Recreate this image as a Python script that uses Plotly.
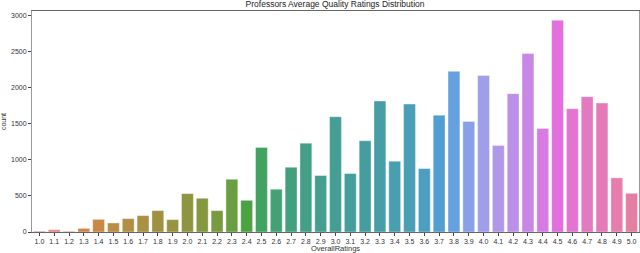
import math, colorsys
import plotly.graph_objects as go

ratings = ["1.0","1.1","1.2","1.3","1.4","1.5","1.6","1.7","1.8","1.9",
           "2.0","2.1","2.2","2.3","2.4","2.5","2.6","2.7","2.8","2.9",
           "3.0","3.1","3.2","3.3","3.4","3.5","3.6","3.7","3.8","3.9",
           "4.0","4.1","4.2","4.3","4.4","4.5","4.6","4.7","4.8","4.9","5.0"]
counts = [12, 32, 10, 50, 175, 125, 185, 227, 296, 171,
          532, 467, 296, 731, 439, 1171, 592, 897, 1231, 782,
          1597, 810, 1264, 1814, 981, 1772, 879, 1619, 2226, 1532,
          2167, 1199, 1917, 2472, 1435, 2935, 1708, 1875, 1786, 750, 536]

# seaborn-like husl palette (h=.01, s=.9, l=.65) desaturated by 0.75
M = [[3.2406, -1.5372, -0.4986], [-0.9689, 1.8758, 0.0415], [0.0557, -0.2040, 1.0570]]
refU, refV = 0.19784, 0.46834

def max_chroma(L, H):
    hrad = math.radians(H); sinH = math.sin(hrad); cosH = math.cos(hrad)
    sub1 = (L + 16) ** 3 / 1560896.0
    sub2 = sub1 if sub1 > 0.008856 else L / 903.3
    res = float("inf")
    for m1, m2, m3 in M:
        top = (0.99915 * m1 + 1.05122 * m2 + 1.14460 * m3) * sub2
        rb = 0.86330 * m3 - 0.17266 * m2
        lb = 0.12949 * m3 - 0.38848 * m1
        bottom = (rb * sinH + lb * cosH) * sub2
        for t in (0.0, 1.0):
            C = L * (top - 1.05122 * t) / (bottom + 0.17266 * sinH * t)
            if 0 < C < res:
                res = C
    return res

def husl_to_rgb(H, S, L):
    C = max_chroma(L, H) / 100 * S
    U = math.cos(math.radians(H)) * C; V = math.sin(math.radians(H)) * C
    t = (L + 16) / 116
    varY = t ** 3 if t ** 3 > 0.008856 else (116 * t - 16) / 903.3
    vU = U / (13 * L) + refU; vV = V / (13 * L) + refV
    Y = varY
    X = -(9 * Y * vU) / ((vU - 4) * vV - vU * vV)
    Z = (9 * Y - 15 * vV * Y - vV * X) / (3 * vV)
    out = []
    for row in M:
        c = row[0] * X + row[1] * Y + row[2] * Z
        c = 12.92 * c if c <= 0.0031308 else 1.055 * c ** (1 / 2.4) - 0.055
        out.append(min(max(c, 0), 1))
    return out

n = len(ratings)
colors = []
for i in range(n):
    h = ((i / n) + 0.01) % 1 * 359
    r, g, b = husl_to_rgb(h, 0.9 * 99, 0.65 * 99)
    hh, ll, ss = colorsys.rgb_to_hls(r, g, b)
    r, g, b = colorsys.hls_to_rgb(hh, ll, ss * 0.75)
    colors.append("rgb(%d,%d,%d)" % (round(r * 255), round(g * 255), round(b * 255)))

fig = go.Figure(go.Bar(x=ratings, y=counts, marker=dict(color=colors, line=dict(color="rgba(255,255,255,0.6)", width=0.6))))

font = "Liberation Sans"
fig.update_layout(
    width=640, height=253,
    margin=dict(l=32, r=1, t=11, b=21, autoexpand=False),
    paper_bgcolor="white", plot_bgcolor="white",
    bargap=0.2, showlegend=False,
    font=dict(family=font, size=7, color="#333"),
    title=dict(text="Professors Average Quality Ratings Distribution", x=0.5235, xanchor="center",
               y=0.996, yanchor="top", font=dict(size=8.5, color="#222")),
)
fig.update_xaxes(type="category", range=[-0.5, n - 0.5], showline=True, linecolor="#666", linewidth=1,
                 mirror=True, ticks="outside", ticklen=3, tickcolor="#444", tickangle=0, automargin=False,
                 tickfont=dict(size=7), title=dict(text="OverallRatings", font=dict(size=7.5), standoff=3))
fig.update_yaxes(range=[0, 3062], showline=True, linecolor="#999", linewidth=1, mirror=True,
                 showgrid=False, zeroline=False, ticks="outside", ticklen=3, tickcolor="#444", automargin=False,
                 tickvals=[0, 500, 1000, 1500, 2000, 2500, 3000], tickfont=dict(size=7),
                 title=dict(text="count", font=dict(size=7), standoff=3))
fig.write_html("out.html", config={"displayModeBar": False},
               post_script="document.body.style.margin='0';document.body.style.padding='0';")
